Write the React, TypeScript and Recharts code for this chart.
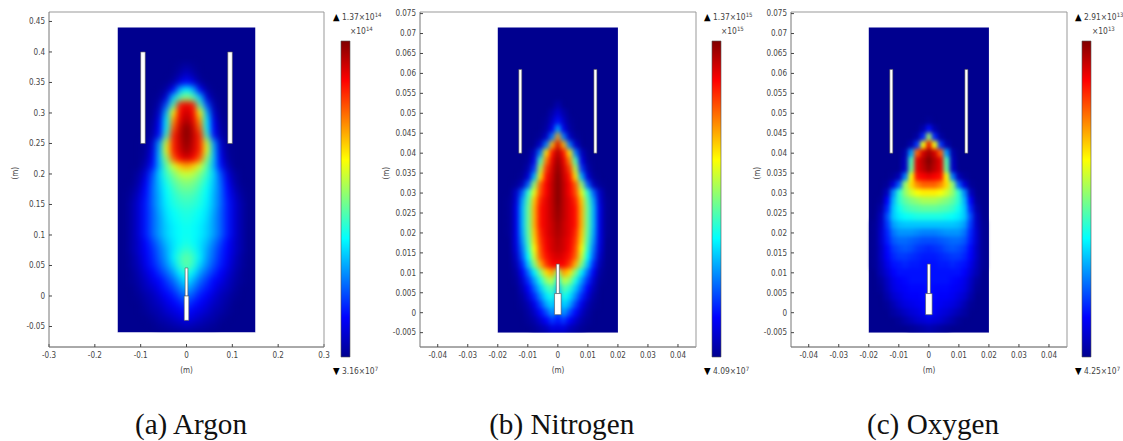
import { ScatterChart, Scatter, XAxis, YAxis, ReferenceArea, BarChart, Bar } from 'recharts'

// heat values are % of the colour bar, half rows from x=0 outwards (the plots are mirror symmetric)
const argonRowY = [0.375, 0.3625, 0.35, 0.3375, 0.325, 0.3125, 0.3, 0.2875, 0.275, 0.2625, 0.25, 0.2375, 0.225, 0.2125, 0.2, 0.1875, 0.175, 0.1625, 0.15, 0.1375, 0.125, 0.1125, 0.1, 0.0875, 0.075, 0.0625, 0.05, 0.0375, 0.025, 0.0125, 0, -0.0125, -0.025, -0.0375, -0.05]
const argonColX = [0, 0.015, 0.03, 0.045, 0.06, 0.075, 0.09, 0.105, 0.12, 0.135]
const argonRows = [
  [3, 1],
  [7, 3],
  [14, 9, 2],
  [37, 30, 12, 2],
  [52, 46, 32, 8, 1],
  [90, 85, 45, 20, 3],
  [93, 88, 62, 30, 6],
  [96, 90, 72, 36, 10, 1],
  [100, 93, 78, 38, 12, 2],
  [100, 94, 84, 44, 14, 3],
  [99, 93, 84, 58, 28, 7, 1],
  [97, 92, 84, 60, 30, 9, 1],
  [92, 88, 78, 52, 31, 11, 2],
  [72, 68, 58, 46, 30, 14, 4],
  [58, 56, 50, 43, 33, 20, 8, 2],
  [52, 50, 46, 40, 32, 22, 11, 3],
  [48, 47, 43, 38, 31, 23, 13, 5, 1],
  [45, 44, 41, 37, 30, 23, 14, 7, 2],
  [43, 42, 40, 36, 30, 23, 15, 8, 3],
  [41, 40, 38, 35, 29, 22, 15, 8, 3],
  [40, 39, 37, 34, 28, 22, 15, 8, 3],
  [39, 38, 36, 33, 28, 22, 15, 8, 3],
  [39, 38, 36, 33, 28, 22, 15, 8, 3],
  [40, 38, 35, 31, 25, 19, 13, 7, 3],
  [43, 40, 35, 29, 23, 17, 12, 7, 3],
  [47, 43, 36, 28, 22, 16, 11, 6, 2],
  [47, 42, 33, 26, 20, 15, 10, 5, 2],
  [42, 36, 28, 22, 17, 12, 8, 4, 1],
  [36, 30, 23, 18, 13, 10, 6, 3, 1],
  [30, 25, 19, 15, 11, 7, 5, 2],
  [24, 20, 15, 12, 8, 5, 3, 1],
  [19, 15, 12, 9, 6, 4, 2],
  [14, 11, 9, 7, 4, 3, 1],
  [10, 8, 6, 4, 3, 1],
  [5, 4, 3, 2, 1],
]

const narrowRowY = [0.052, 0.05, 0.048, 0.046, 0.044, 0.042, 0.04, 0.038, 0.036, 0.034, 0.032, 0.03, 0.028, 0.026, 0.024, 0.022, 0.02, 0.018, 0.016, 0.014, 0.012, 0.01, 0.008, 0.006, 0.004, 0.002, 0, -0.002, -0.004]
const narrowColX = [0, 0.002, 0.004, 0.006, 0.008, 0.01, 0.012, 0.014, 0.016, 0.018]
const nitrogenRows = [
  [3],
  [8, 3],
  [14, 6, 1],
  [30, 10, 2],
  [72, 25, 6, 1],
  [92, 70, 25, 6],
  [96, 86, 65, 25, 5],
  [98, 90, 75, 45, 10, 1],
  [99, 92, 82, 55, 18, 3],
  [100, 93, 86, 65, 30, 8, 1],
  [100, 94, 88, 78, 52, 22, 5, 1],
  [100, 94, 88, 80, 60, 42, 22, 6],
  [100, 94, 90, 84, 68, 46, 28, 8, 1],
  [99, 94, 90, 86, 70, 48, 30, 10, 1],
  [98, 94, 90, 86, 70, 48, 30, 10, 1],
  [97, 93, 90, 86, 70, 48, 30, 10, 1],
  [96, 93, 90, 84, 68, 47, 29, 10, 1],
  [95, 92, 89, 82, 66, 45, 27, 9],
  [94, 92, 88, 80, 62, 42, 24, 8],
  [92, 90, 86, 78, 58, 38, 21, 6],
  [88, 88, 82, 70, 50, 32, 16, 4],
  [50, 72, 66, 50, 36, 23, 11, 2],
  [36, 56, 52, 40, 28, 17, 7, 1],
  [30, 46, 42, 32, 22, 12, 4],
  [26, 40, 35, 26, 16, 8, 2],
  [22, 34, 29, 19, 10, 4, 1],
  [18, 28, 20, 13, 6, 2],
  [14, 18, 12, 7, 3, 1],
  [8, 9, 5, 3, 1],
]
const oxygenRows = [
  [],
  [],
  [1],
  [14, 3],
  [55, 16, 2],
  [90, 62, 18, 3],
  [97, 92, 78, 28, 3],
  [100, 95, 90, 45, 5],
  [98, 94, 90, 48, 6],
  [90, 88, 86, 62, 25, 5, 1],
  [78, 78, 74, 66, 52, 22, 8, 1],
  [64, 64, 62, 58, 52, 42, 26, 5],
  [54, 54, 52, 50, 47, 42, 30, 12, 1],
  [47, 47, 46, 45, 43, 39, 32, 16, 3],
  [40, 40, 40, 39, 38, 36, 32, 20, 5],
  [32, 32, 32, 32, 32, 31, 28, 18, 6, 1],
  [25, 25, 26, 27, 27, 27, 24, 16, 7, 1],
  [20, 20, 21, 22, 23, 23, 21, 15, 7, 1],
  [16, 17, 18, 20, 21, 20, 18, 13, 6, 1],
  [15, 15, 16, 17, 18, 18, 16, 12, 6, 1],
  [14, 14, 15, 15, 16, 15, 14, 10, 5, 1],
  [14, 14, 14, 14, 14, 14, 12, 8, 4],
  [14, 14, 14, 14, 13, 12, 10, 6, 2],
  [14, 13, 13, 13, 12, 11, 9, 5, 1],
  [14, 13, 12, 12, 11, 9, 7, 3],
  [14, 12, 11, 10, 9, 7, 4, 1],
  [15, 11, 9, 8, 6, 4, 2],
  [9, 8, 7, 5, 3, 1],
  [4, 3, 2, 1],
]

const argonXTicks = [-0.3, -0.2, -0.1, 0, 0.1, 0.2, 0.3]
const argonYTicks = [-0.05, 0, 0.05, 0.1, 0.15, 0.2, 0.25, 0.3, 0.35, 0.4, 0.45]
const narrowXTicks = [-0.04, -0.03, -0.02, -0.01, 0, 0.01, 0.02, 0.03, 0.04]
const narrowYTicks = [-0.005, 0, 0.005, 0.01, 0.015, 0.02, 0.025, 0.03, 0.035, 0.04, 0.045, 0.05, 0.055, 0.06, 0.065, 0.07, 0.075]
const argonBarTicks = [0.2, 0.4, 0.6, 0.8, 1, 1.2]
const oxygenBarTicks = [0.5, 1, 1.5, 2, 2.5]

const jetStops = [
  [0, '#00008f'],
  [0.125, '#0000ff'],
  [0.375, '#00ffff'],
  [0.625, '#ffff00'],
  [0.875, '#ff0000'],
  [1, '#800000'],
] as const

const font = '"DejaVu Sans Condensed", "DejaVu Sans", sans-serif'
const tickStyle = { fill: '#444', fontSize: 8, fontFamily: font }

function jet(pct: number) {
  const t = pct / 100
  for (let i = 1; i < jetStops.length; i++) {
    if (t <= jetStops[i][0]) {
      const [a, ca] = jetStops[i - 1]
      const [b, cb] = jetStops[i]
      const f = (t - a) / (b - a)
      const ch = (c: string, o: number) => parseInt(c.slice(o, o + 2), 16)
      const mix = (o: number) => Math.round(ch(ca, o) + (ch(cb, o) - ch(ca, o)) * f)
      return `rgb(${mix(1)},${mix(3)},${mix(5)})`
    }
  }
  return '#800000'
}

function buildCells(rowY: number[], colX: number[], rows: number[][]) {
  const cells: { x: number; y: number; t: number }[] = []
  rows.forEach((row, i) => {
    row.forEach((t, j) => {
      cells.push({ x: colX[j], y: rowY[i], t })
      if (j > 0) cells.push({ x: -colX[j], y: rowY[i], t })
    })
  })
  return cells
}

type Box = { x1: number; x2: number; y1: number; y2: number }

interface HeatProps {
  left: number
  width: number
  plotLeft: number
  plotRight: number
  xDomain: [number, number]
  yDomain: [number, number]
  xTicks: number[]
  yTicks: number[]
  cells: { x: number; y: number; t: number }[]
  stepX: number
  stepY: number
  soft: number
  field: Box
  holes: Box[]
}

const PLOT_TOP = 12
const PLOT_BOTTOM = 347
const CHART_H = 395

function HeatPanel(p: HeatProps) {
  const plotW = p.plotRight - p.plotLeft
  const plotH = PLOT_BOTTOM - PLOT_TOP
  const cw = (p.stepX / (p.xDomain[1] - p.xDomain[0])) * plotW + 0.8
  const ch = (p.stepY / (p.yDomain[1] - p.yDomain[0])) * plotH + 0.8
  const cell = (s: any) => (
    <rect x={s.cx - cw / 2} y={s.cy - ch / 2} width={cw} height={ch} fill={jet(s.payload.t)} />
  )
  const ids = { xAxisId: 'b', yAxisId: 'l' }
  const vars = { '--soft': `${p.soft}px` } as any
  // white strip under the field hides what the softening pushes past its lower edge
  const below = { x1: p.field.x1, x2: p.field.x2, y1: p.field.y1 - (p.yDomain[1] - p.yDomain[0]) * 0.03, y2: p.field.y1 }
  return (
    <div style={{ position: 'absolute', left: p.left, top: 0, ...vars }} className="heat">
      <ScatterChart
        width={p.width}
        height={CHART_H}
        margin={{
          top: PLOT_TOP - 1,
          left: p.plotLeft - 40,
          right: p.width - p.plotRight - 1,
          bottom: CHART_H - PLOT_BOTTOM - 30,
        }}
      >
        <XAxis
          xAxisId="b"
          dataKey="x"
          type="number"
          domain={p.xDomain}
          ticks={p.xTicks}
          interval={0}
          height={30}
          allowDataOverflow
          tickSize={-3}
          tickMargin={8}
          tick={tickStyle}
          stroke="#555"
          tickLine={{ stroke: '#444' }}
          label={{ value: '(m)', position: 'insideBottom', offset: 4, fill: '#444', fontSize: 8, fontFamily: font }}
        />
        <XAxis
          xAxisId="t"
          orientation="top"
          type="number"
          domain={p.xDomain}
          ticks={p.xTicks}
          interval={0}
          height={1}
          tickSize={-3}
          tick={false}
          stroke="#999"
          tickLine={{ stroke: '#444' }}
        />
        <YAxis
          yAxisId="l"
          dataKey="y"
          type="number"
          domain={p.yDomain}
          ticks={p.yTicks}
          interval={0}
          width={40}
          allowDataOverflow
          tickSize={-3}
          tickMargin={7}
          tick={tickStyle}
          stroke="#777"
          tickLine={{ stroke: '#444' }}
          label={{ value: '(m)', angle: -90, position: 'insideLeft', offset: 6, fill: '#444', fontSize: 8, fontFamily: font }}
        />
        <YAxis
          yAxisId="r"
          orientation="right"
          type="number"
          domain={p.yDomain}
          ticks={p.yTicks}
          interval={0}
          width={1}
          tickSize={-3}
          tick={false}
          stroke="#999"
          tickLine={{ stroke: '#444' }}
        />
        <ReferenceArea {...ids} {...p.field} fill="#00008f" fillOpacity={1} stroke="none" zIndex={100} />
        <Scatter {...ids} data={p.cells} shape={cell} isAnimationActive={false} zIndex={200} />
        <ReferenceArea {...ids} {...below} fill="#fff" fillOpacity={1} stroke="none" zIndex={250} />
        {p.holes.map((h, i) => (
          <ReferenceArea key={i} {...ids} {...h} fill="#fff" fillOpacity={1} stroke="#555" strokeWidth={0.6} zIndex={300} />
        ))}
      </ScatterChart>
    </div>
  )
}

function ColorBar({ left, max, ticks }: { left: number; max: number; ticks: number[] }) {
  const axis = { type: 'number' as const, domain: [0, max], ticks, interval: 0 as const, stroke: 'none' }
  return (
    <div style={{ position: 'absolute', left: left - 6, top: 0 }}>
      <BarChart
        width={40}
        height={CHART_H}
        data={[{ name: 'range', value: max }]}
        barCategoryGap={0}
        margin={{ top: 41, bottom: CHART_H - 357, left: 5, right: 0 }}
      >
        <XAxis dataKey="name" hide />
        <YAxis yAxisId="l" {...axis} width={1} tickSize={-2} tick={false} tickLine={{ stroke: '#222' }} />
        <YAxis
          yAxisId="r"
          orientation="right"
          {...axis}
          width={24.7}
          tickSize={-2}
          tickMargin={6}
          tick={tickStyle}
          tickLine={{ stroke: '#222' }}
        />
        <Bar yAxisId="l" dataKey="value" fill="url(#jetBar)" stroke="#555" strokeWidth={0.6} isAnimationActive={false} />
      </BarChart>
    </div>
  )
}

function Scale({ mark, text, exp, minText, minExp }: { mark: number; text: string; exp: string; minText: string; minExp: string }) {
  const line = { position: 'absolute', whiteSpace: 'nowrap', font: `8.4px ${font}`, color: '#444', lineHeight: '10px' } as const
  const sup = { fontSize: 6, verticalAlign: 3, lineHeight: 0 }
  const arrow = { color: '#000', fontSize: 9.5 }
  return (
    <>
      <div style={{ ...line, left: mark, top: 12 }}>
        <span style={arrow}>▲</span> {text}×10<sup style={sup}>{exp}</sup>
      </div>
      <div style={{ ...line, left: mark + 17, top: 26 }}>
        ×10<sup style={sup}>{exp}</sup>
      </div>
      <div style={{ ...line, left: mark, top: 366 }}>
        <span style={arrow}>▼</span> {minText}×10<sup style={sup}>{minExp}</sup>
      </div>
    </>
  )
}

function Caption({ center, text }: { center: number; text: string }) {
  return (
    <div
      style={{
        position: 'absolute',
        left: center - 120,
        width: 240,
        top: 408,
        textAlign: 'center',
        font: '29.2px "Liberation Serif", serif',
        lineHeight: '33px',
        color: '#111',
      }}
    >
      {text}
    </div>
  )
}

const argonCells = buildCells(argonRowY, argonColX, argonRows)
const nitrogenCells = buildCells(narrowRowY, narrowColX, nitrogenRows)
const oxygenCells = buildCells(narrowRowY, narrowColX, oxygenRows)

const narrowField = { x1: -0.02, x2: 0.02, y1: -0.005, y2: 0.0715 }
const narrowHoles = [
  { x1: -0.013, x2: -0.012, y1: 0.04, y2: 0.061 },
  { x1: 0.012, x2: 0.013, y1: 0.04, y2: 0.061 },
  { x1: -0.0005, x2: 0.0005, y1: 0.0048, y2: 0.0122 },
  { x1: -0.0011, x2: 0.0011, y1: -0.0005, y2: 0.0048 },
]

export default function App() {
  return (
    <div style={{ position: 'absolute', left: 0, top: 0, width: 1123, height: 441, overflow: 'hidden', background: '#fff' }}>
      <style>{'.heat .recharts-scatter { filter: blur(var(--soft)); }'}</style>
      <svg width={0} height={0} style={{ position: 'absolute' }}>
        <defs>
          <linearGradient id="jetBar" x1="0" y1="1" x2="0" y2="0">
            {jetStops.map(([o, c]) => (
              <stop key={o} offset={o} stopColor={c} />
            ))}
          </linearGradient>
        </defs>
      </svg>

      <HeatPanel
        left={0}
        width={330}
        plotLeft={49}
        plotRight={324}
        xDomain={[-0.3, 0.3]}
        yDomain={[-0.0836, 0.4655]}
        xTicks={argonXTicks}
        yTicks={argonYTicks}
        cells={argonCells}
        stepX={0.015}
        stepY={0.0125}
        soft={3}
        field={{ x1: -0.15, x2: 0.15, y1: -0.06, y2: 0.44 }}
        holes={[
          { x1: -0.1, x2: -0.09, y1: 0.25, y2: 0.4 },
          { x1: 0.09, x2: 0.1, y1: 0.25, y2: 0.4 },
          { x1: -0.003, x2: 0.003, y1: 0, y2: 0.046 },
          { x1: -0.005, x2: 0.005, y1: -0.04, y2: 0 },
        ]}
      />
      <ColorBar left={340.7} max={1.37} ticks={argonBarTicks} />
      <Scale mark={333} text="1.37" exp="14" minText="3.16" minExp="7" />
      <Caption center={191} text="(a) Argon" />

      <HeatPanel
        left={380}
        width={322}
        plotLeft={40}
        plotRight={316}
        xDomain={[-0.0459, 0.046]}
        yDomain={[-0.0086, 0.0754]}
        xTicks={narrowXTicks}
        yTicks={narrowYTicks}
        cells={nitrogenCells}
        stepX={0.002}
        stepY={0.002}
        soft={2.6}
        field={narrowField}
        holes={narrowHoles}
      />
      <ColorBar left={711.7} max={1.37} ticks={argonBarTicks} />
      <Scale mark={704} text="1.37" exp="15" minText="4.09" minExp="7" />
      <Caption center={561.7} text="(b) Nitrogen" />

      <HeatPanel
        left={750}
        width={323}
        plotLeft={41}
        plotRight={317}
        xDomain={[-0.0459, 0.046]}
        yDomain={[-0.0086, 0.0754]}
        xTicks={narrowXTicks}
        yTicks={narrowYTicks}
        cells={oxygenCells}
        stepX={0.002}
        stepY={0.002}
        soft={2.2}
        field={narrowField}
        holes={narrowHoles}
      />
      <ColorBar left={1082.3} max={2.91} ticks={oxygenBarTicks} />
      <Scale mark={1075} text="2.91" exp="13" minText="4.25" minExp="7" />
      <Caption center={933} text="(c) Oxygen" />
    </div>
  )
}
